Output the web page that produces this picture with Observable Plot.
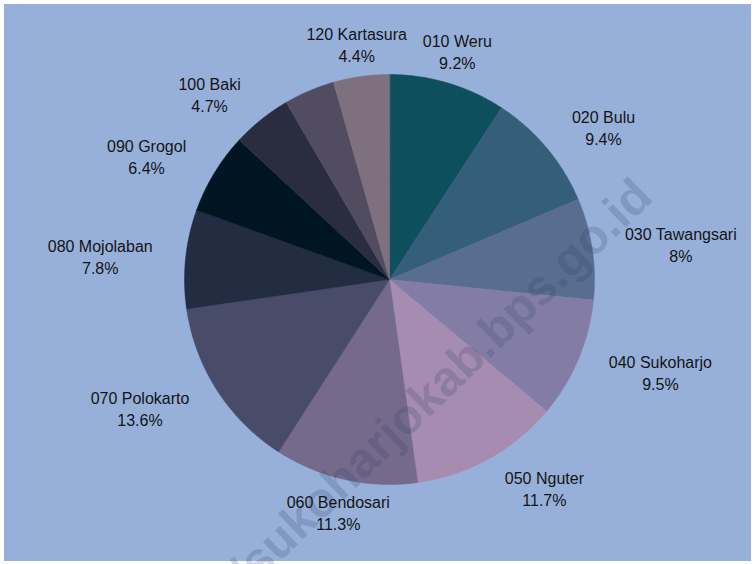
<!DOCTYPE html>
<html>
<head>
<meta charset="utf-8">
<script src="https://cdn.jsdelivr.net/npm/d3@7"></script>
<script src="https://cdn.jsdelivr.net/npm/@observablehq/plot@0.6"></script>
<style>
  html, body { margin: 0; padding: 0; background: #ffffff; }
  #wrap { position: relative; width: 754px; height: 564px; overflow: hidden; }
  #bg { position: absolute; left: 4px; top: 4px; width: 747px; height: 557px; background: #97b0da; }
  #chart { position: absolute; left: 0; top: 0; }
</style>
</head>
<body>
<div id="wrap"><div id="bg"></div><div id="chart"></div></div>
<script>
// ---- data ----
const categories = ["010 Weru", "020 Bulu", "030 Tawangsari", "040 Sukoharjo", "050 Nguter", "060 Bendosari",
  "070 Polokarto", "080 Mojolaban", "090 Grogol", "100 Baki", "110 Gatak", "120 Kartasura"];
const shares = [9.2, 9.4, 8, 9.5, 11.7, 11.3, 13.6, 7.8, 6.4, 4.7, 4.0, 4.4];
const colors = ["#0e4f5e", "#355e7b", "#586d8f", "#837da5", "#a68cb1", "#756a8c",
  "#494c69", "#222d42", "#001522", "#2a2d3e", "#524c60", "#7f7080"];
const hiddenLabels = ["110 Gatak"];
const watermark = "https://sukoharjokab.bps.go.id";

// ---- geometry (data units = pixels) ----
const W = 754, H = 564;
const cx = 389, cy = 279;
const R = 205, RL = 238;
const total = d3.sum(shares);
const FONT = "16px 'Liberation Sans', Arial, sans-serif";
const ctx = document.createElement("canvas").getContext("2d");
ctx.font = FONT;
const measure = s => ctx.measureText(s).width;

const slices = [];
const labels = [];
let acc = 0;
categories.forEach((c, i) => {
  const a0 = acc / total * 2 * Math.PI;
  acc += shares[i];
  const a1 = acc / total * 2 * Math.PI;
  slices.push({cat: c, x: 0, y: 0});
  const n = Math.max(2, Math.ceil((a1 - a0) / (Math.PI / 360)));
  for (let k = 0; k <= n; k++) {
    const a = a0 + (a1 - a0) * k / n;
    slices.push({cat: c, x: R * Math.sin(a), y: R * Math.cos(a)});
  }
  const am = (a0 + a1) / 2;
  const s = Math.sin(am);
  const pct = shares[i] + "%";
  const w = Math.max(measure(c), measure(pct));
  const shift = Math.abs(s) < 0.35 ? 0 : (s > 0 ? w / 2 : -w / 2);
  if (!hiddenLabels.includes(c)) {
    labels.push({text: c + "\n" + pct, x: RL * s + shift, y: RL * Math.cos(am)});
  }
});

const chart = Plot.plot({
  width: W,
  height: H,
  margin: 0,
  x: {domain: [-cx, W - cx], range: [0, W], axis: null},
  y: {domain: [cy, cy - H], range: [0, H], axis: null},
  color: {type: "ordinal", domain: categories, range: colors},
  style: {background: "transparent", overflow: "visible"},
  marks: [
    Plot.line(slices, {x: "x", y: "y", z: "cat", fill: "cat", stroke: "cat", strokeWidth: 0.5, curve: "linear-closed"}),
    Plot.text([watermark], {
      frameAnchor: "top-left", dx: 630, dy: 174, rotate: -44, textAnchor: "end",
      text: d => d, fontSize: 49, fontWeight: "bold",
      fontFamily: "'Liberation Sans', Arial, sans-serif",
      fill: "#2f3c63", fillOpacity: 0.2
    }),
    Plot.text(labels, {
      x: "x", y: "y", text: "text", textAnchor: "middle",
      fontSize: 16, fontFamily: "'Liberation Sans', Arial, sans-serif",
      fill: "#141414", lineHeight: 1.375, lineAnchor: "middle"
    })
  ]
});
document.getElementById("chart").appendChild(chart);
</script>
</body>
</html>
